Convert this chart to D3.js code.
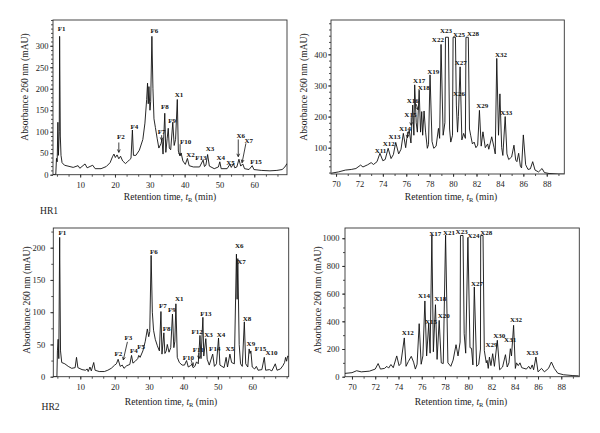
<!DOCTYPE html>
<html><head><meta charset="utf-8">
<script src="https://cdn.jsdelivr.net/npm/d3@7"></script>
<style>body{margin:0;background:#fff}svg{display:block}</style>
</head><body><svg id="c" width="600" height="433"></svg>
<script>
// ---------- DATA (retention time min, absorbance mAU) ----------
const hr1Early = [[2.2,0],[3.0,1],[3.2,38],[3.4,30],[3.6,122],[3.75,45],[4.0,100],[4.1,322],[4.3,90],[4.5,45],[4.8,28],[5.5,22],[6.5,20],[8,17],[9.4,21],[9.9,15],[11.4,25],[12,16],[13.6,22],[14.3,14],[16,14],[17.5,19],[18.6,28],[19.3,42],[19.7,48],[20.1,40],[20.6,46],[21.1,37],[21.6,43],[22.2,32],[23,26],[23.6,30],[24.2,35],[24.6,38],[25.0,104],[25.3,45],[26,45],[27,57],[28,82],[28.6,120],[29.1,175],[29.35,213],[29.55,165],[29.75,205],[30.05,150],[30.25,170],[30.6,322],[30.9,200],[31.2,130],[31.6,110],[32.1,85],[32.6,62],[33.2,72],[33.5,82],[33.8,48],[34.3,143],[34.6,52],[35.0,85],[35.3,108],[35.6,62],[36.0,58],[36.6,122],[37.0,68],[37.4,82],[37.9,175],[38.2,55],[38.6,45],[39.0,50],[39.5,32],[40.2,24],[40.8,38],[41.3,21],[42.5,18],[44.3,18],[45.3,34],[45.7,19],[46.1,22],[46.6,47],[47.1,20],[48.5,14],[49.7,18],[50.1,30],[50.5,14],[52.2,14],[53.0,24],[53.4,17],[54.0,26],[54.4,16],[55.0,18],[55.6,36],[56.1,20],[56.7,25],[57.2,14],[58.5,12],[59.4,21],[59.9,12],[62,10],[64.5,9],[66.5,10],[68,12],[68.8,18],[69.4,26]];
const hr1Late = [[69.6,18],[70.2,22],[70.8,28],[71.3,30],[71.7,33],[72.1,44],[72.3,38],[72.7,45],[73.0,52],[73.2,46],[73.5,55],[73.75,82],[74.0,58],[74.2,62],[74.45,98],[74.7,65],[74.9,78],[75.1,117],[75.35,80],[75.55,95],[75.75,146],[75.95,100],[76.05,130],[76.25,156],[76.4,115],[76.55,237],[76.65,140],[76.72,302],[76.85,180],[76.95,150],[77.1,285],[77.22,150],[77.32,216],[77.4,140],[77.52,218],[77.65,150],[77.8,98],[77.9,110],[78.03,334],[78.2,120],[78.35,98],[78.55,105],[78.75,162],[78.85,130],[78.97,432],[79.15,140],[79.3,180],[79.35,455],[79.6,455],[79.7,160],[79.8,118],[79.95,140],[80.0,455],[80.2,455],[80.28,237],[80.38,150],[80.45,200],[80.6,360],[80.75,125],[80.9,146],[81.05,130],[81.1,455],[81.3,455],[81.4,160],[81.5,140],[81.65,112],[81.8,118],[81.95,100],[82.1,108],[82.25,220],[82.4,105],[82.55,151],[82.75,100],[82.95,112],[83.05,95],[83.3,135],[83.5,100],[83.6,80],[83.73,387],[83.88,140],[84.0,273],[84.15,100],[84.25,75],[84.45,200],[84.6,80],[84.75,62],[85.0,70],[85.2,108],[85.35,60],[85.45,55],[85.6,82],[85.75,40],[85.85,35],[86.0,141],[86.2,45],[86.4,30],[86.6,32],[86.8,55],[87.0,28],[87.3,22],[87.6,33],[87.8,20],[88.2,17],[89.0,15],[89.5,15]];
const hr2Early = [[2.15,0],[3.2,0],[3.35,40],[3.55,58],[3.75,28],[4.0,216],[4.25,40],[4.6,22],[5.5,20],[6.5,16],[7.5,13],[8.5,14],[8.9,30],[9.3,14],[10.5,11],[11.5,10],[12.0,12],[12.3,8],[12.8,15],[13.2,9],[13.9,22],[14.3,10],[15.5,8],[17,8],[18,10],[19,13],[20,18],[20.5,20],[21.0,27],[21.6,16],[22.2,18],[22.7,13],[23.5,17],[24.4,19],[24.9,33],[25.3,21],[26,24],[26.7,28],[27.0,33],[27.4,30],[28.2,40],[28.9,55],[29.5,74],[29.9,62],[30.2,70],[30.6,188],[30.95,100],[31.3,72],[31.8,58],[32.4,48],[33.0,40],[33.45,101],[33.75,35],[34.3,68],[34.6,36],[35.0,40],[35.3,50],[35.8,38],[36.3,45],[36.8,97],[37.2,45],[37.5,55],[37.8,113],[38.2,30],[38.8,22],[39.6,18],[40.3,18],[40.9,25],[41.4,15],[42.0,17],[42.4,19],[42.8,14],[43.3,16],[43.8,23],[44.3,20],[44.8,64],[45.1,28],[45.65,92],[45.9,32],[46.5,59],[46.9,27],[47.5,18],[48.5,35],[49.0,16],[49.6,20],[50.2,60],[50.6,18],[51.8,14],[52.4,30],[52.8,15],[53.5,35],[54.0,22],[54.8,20],[55.4,190],[55.6,120],[55.8,183],[56.2,50],[56.6,20],[57.1,16],[57.7,85],[58.1,20],[58.7,15],[59.1,43],[59.35,36],[59.6,40],[60.0,15],[60.7,12],[61.2,16],[61.7,10],[62.8,11],[63.5,30],[63.9,10],[65,11],[65.7,9],[66.7,20],[67.2,10],[68.2,12],[68.9,17],[69.4,22],[69.7,30],[70.0,24],[70.3,32],[70.6,31]];
const hr2Late = [[69.4,24],[70.0,29],[70.4,43],[70.8,35],[71.5,40],[72.0,55],[72.25,95],[72.45,55],[72.8,60],[73.0,75],[73.15,62],[73.35,88],[73.55,65],[73.85,150],[74.05,80],[74.2,95],[74.5,280],[74.65,75],[74.85,110],[75.1,147],[75.3,105],[75.45,55],[75.6,90],[75.78,383],[75.95,90],[76.1,150],[76.27,547],[76.42,150],[76.6,383],[76.72,170],[76.87,1022],[77.0,180],[77.18,520],[77.32,125],[77.5,407],[77.68,100],[77.85,95],[78.05,1022],[78.25,100],[78.5,75],[78.7,120],[78.95,231],[79.12,150],[79.3,250],[79.33,1020],[79.55,1020],[79.65,310],[79.78,170],[79.97,1005],[80.15,210],[80.28,205],[80.4,85],[80.52,648],[80.72,75],[80.9,90],[81.05,200],[81.07,1020],[81.27,1020],[81.38,190],[81.55,100],[81.62,118],[81.72,60],[81.82,142],[81.95,80],[82.1,166],[82.25,75],[82.5,263],[82.7,50],[82.95,70],[83.2,159],[83.35,70],[83.5,100],[83.62,202],[83.72,150],[83.9,371],[84.05,60],[84.15,100],[84.3,80],[84.45,100],[84.6,65],[85.0,55],[85.2,75],[85.35,55],[85.5,85],[85.62,50],[85.82,142],[86.0,35],[86.3,60],[86.55,35],[86.9,60],[87.15,106],[87.4,60],[87.7,25],[88.2,14],[89.0,8],[89.5,6]];

// peak labels [text, time, absorbance]
const hr1EarlyLabels = [["F1",4.7,339],["F6",31.3,336],["F4",25.6,112],["F2",21.7,89],["F8",34.3,158],["F7",33.4,100],["F9",36.4,125],["X1",38.4,186],["F10",40.3,78],["X2",41.7,48],["F13",44.7,40],["X3",47.3,62],["X4",50.4,40],["X5",53.2,29],["X6",56.1,91],["X7",58.4,79],["F15",60.5,31]];
const hr1LateLabels = [["X11",73.8,92],["X12",74.5,114],["X13",75.0,135],["X14",75.9,162],["X15",76.35,208],["X16",76.55,253],["X17",77.1,315],["X18",77.5,294],["X19",78.3,345],["X22",78.7,448],["X23",79.4,478],["X25",80.5,465],["X28",81.7,468],["X27",80.65,373],["X26",80.5,275],["X29",82.5,234],["X32",84.1,400],["X33",84.55,214]];
const hr2EarlyLabels = [["F1",4.8,224],["F6",31.4,194],["F7",34.0,110],["F8",35.1,75],["F9",36.6,104],["X1",38.8,121],["F13",46.5,98],["F12",44.0,70],["X3",47.3,65],["X4",50.9,66],["F14",49.1,43],["F11",44.3,42],["F10",41.4,30],["F2",21.1,36],["F3",24.0,60],["F4",25.6,41],["F5",27.7,47],["X5",53.5,43],["X6",56.2,203],["X7",56.9,179],["X8",58.5,90],["X9",59.6,52],["F15",62.4,43],["X10",65.6,37]];
const hr2LateLabels = [["X17",77.16,1036],["X21",78.34,1041],["X23",79.43,1048],["X24",80.46,1022],["X28",81.55,1041],["X14",76.2,583],["X18",77.6,566],["X15",76.8,400],["X20",77.9,441],["X12",74.8,318],["X27",80.75,675],["X29",82.0,229],["X30",82.66,294],["X31",83.6,265],["X32",84.1,414],["X33",85.5,173]];

// arrows [t1, v1, t2, v2]
const hr1EarlyArrows = [[21.1,75,21.1,52],[33.4,92,33.4,80],[38.7,71,38.7,44],[55.4,82,55.4,42],[57.6,73,56.5,28]];
const hr1LateArrows = [[76.1,151,76.1,132],[76.42,198,76.42,172],[76.85,240,77.0,222]];
const hr2EarlyArrows = [[23.7,54,22.5,26],[42.2,26,42.8,17],[44.5,37,44.5,28]];
const hr2LateArrows = [];

// tick labels
const earlyXTicks = [10,20,30,40,50,60];
const lateXTicks = [70,72,74,76,78,80,82,84,86,88];
const hr1EarlyYTicks = [0,50,100,150,200,250,300];
const hr1LateYTicks = [100,200,300,400];
const hr2EarlyYTicks = [0,50,100,150,200];
const hr2LateYTicks = [0,200,400,600,800,1000];

// ---------- DRAW ----------
const svg = d3.select("#c");
const FONT = "'Liberation Serif','DejaVu Serif',serif";
const defs = svg.append("defs");

function drawPanel(c) {
  const x = d3.scaleLinear().domain(c.xDom).range([c.l, c.r]);
  const y = d3.scaleLinear().domain(c.yDom).range([c.b, c.t]);
  const g = svg.append("g");
  defs.append("clipPath").attr("id", c.id).append("rect")
    .attr("x", c.l).attr("y", c.t).attr("width", c.r - c.l).attr("height", c.b - c.t);

  const xMinor = d3.range(Math.ceil(c.xDom[0] / c.xMinorStep), Math.floor(c.xDom[1] / c.xMinorStep) + 1)
    .map(k => k * c.xMinorStep);
  const yMinor = d3.range(Math.ceil(c.yDom[0] / c.yMinorStep), Math.floor(c.yDom[1] / c.yMinorStep) + 1)
    .map(k => k * c.yMinorStep);

  const style = sel => {
    sel.select(".domain").remove();
    sel.selectAll("line").attr("stroke", "#222").attr("stroke-width", 0.8);
    sel.selectAll("text").attr("font-family", FONT).attr("font-size", 8.5).attr("fill", "#222");
  };
  g.append("g").attr("transform", `translate(0,${c.b})`)
    .call(d3.axisBottom(x).tickValues(xMinor).tickSize(2).tickFormat("")).call(style);
  g.append("g").attr("transform", `translate(0,${c.b})`)
    .call(d3.axisBottom(x).tickValues(c.xTicks).tickSize(3).tickPadding(4).tickFormat(d3.format("d"))).call(style);
  g.append("g").attr("transform", `translate(${c.l},0)`)
    .call(d3.axisLeft(y).tickValues(yMinor).tickSize(2).tickFormat("")).call(style);
  g.append("g").attr("transform", `translate(${c.l},0)`)
    .call(d3.axisLeft(y).tickValues(c.yTicks).tickSize(3).tickPadding(c.yPad).tickFormat(d3.format("d"))).call(style);

  g.append("rect").attr("x", c.l).attr("y", c.t).attr("width", c.r - c.l).attr("height", c.b - c.t)
    .attr("fill", "none").attr("stroke", "#333").attr("stroke-width", 0.9);

  const line = d3.line().x(d => x(d[0])).y(d => y(d[1]));
  g.append("path").datum(c.data).attr("clip-path", `url(#${c.id})`)
    .attr("d", line).attr("fill", "none").attr("stroke", "#111").attr("stroke-width", 0.9)
    .attr("stroke-linejoin", "miter");

  g.selectAll(".pk").data(c.labels).enter().append("text")
    .attr("x", d => x(d[1])).attr("y", d => y(d[2])).attr("dy", "0.35em")
    .attr("text-anchor", "middle").attr("font-family", FONT).attr("font-size", 7)
    .attr("font-weight", "bold").attr("fill", "#111").text(d => d[0]);

  c.arrows.forEach(a => {
    const x1 = x(a[0]), y1 = y(a[1]), x2 = x(a[2]), y2 = y(a[3]);
    const ang = Math.atan2(y2 - y1, x2 - x1), L = 3.2, w = 0.45;
    g.append("path")
      .attr("d", `M${x1},${y1}L${x2},${y2}M${x2 - L * Math.cos(ang - w)},${y2 - L * Math.sin(ang - w)}L${x2},${y2}L${x2 - L * Math.cos(ang + w)},${y2 - L * Math.sin(ang + w)}`)
      .attr("fill", "none").attr("stroke", "#111").attr("stroke-width", 0.8);
  });

  const xt = g.append("text").attr("x", c.xTitle[0]).attr("y", c.xTitle[1]).attr("text-anchor", "middle")
    .attr("font-family", FONT).attr("font-size", 9.6).attr("fill", "#222");
  xt.append("tspan").text("Retention time, ");
  xt.append("tspan").attr("font-style", "italic").text("t");
  xt.append("tspan").attr("font-size", 6.5).attr("dy", 2).text("R");
  xt.append("tspan").attr("dy", -2).text(" (min)");

  g.append("text").attr("transform", `translate(${c.yTitle[0]},${c.yTitle[1]}) rotate(-90)`)
    .attr("dy", "0.35em").attr("text-anchor", "middle").attr("font-family", FONT)
    .attr("font-size", 9.6).attr("fill", "#222").text("Absorbance 260 nm (mAU)");
}

drawPanel({id: "p1", l: 53, r: 287, t: 20, b: 174.7, xDom: [2.2, 69.4], yDom: [0, 360],
  xTicks: earlyXTicks, xMinorStep: 10 / 3, yTicks: hr1EarlyYTicks, yMinorStep: 10, yPad: 1.5,
  data: hr1Early, labels: hr1EarlyLabels, arrows: hr1EarlyArrows, xTitle: [170, 199.5], yTitle: [25, 87]});
drawPanel({id: "p2", l: 331, r: 564.3, t: 20, b: 174, xDom: [69.57, 89.5], yDom: [15.4, 510.5],
  xTicks: lateXTicks, xMinorStep: 1, yTicks: hr1LateYTicks, yMinorStep: 20, yPad: 1,
  data: hr1Late, labels: hr1LateLabels, arrows: hr1LateArrows, xTitle: [451, 199.5], yTitle: [304, 87]});
drawPanel({id: "p3", l: 53.3, r: 288.7, t: 228, b: 376.7, xDom: [2.15, 70.6], yDom: [0, 230.5],
  xTicks: earlyXTicks, xMinorStep: 10 / 3, yTicks: hr2EarlyYTicks, yMinorStep: 25, yPad: 5,
  data: hr2Early, labels: hr2EarlyLabels, arrows: hr2EarlyArrows, xTitle: [171, 405], yTitle: [27, 300]});
drawPanel({id: "p4", l: 345, r: 579.3, t: 228, b: 376.7, xDom: [69.4, 89.55], yDom: [0, 1074],
  xTicks: lateXTicks, xMinorStep: 1, yTicks: hr2LateYTicks, yMinorStep: 100, yPad: 2.5,
  data: hr2Late, labels: hr2LateLabels, arrows: hr2LateArrows, xTitle: [461, 405], yTitle: [318, 300]});

svg.append("text").attr("x", 40).attr("y", 214).attr("font-family", FONT).attr("font-size", 9.6).attr("fill", "#222").text("HR1");
svg.append("text").attr("x", 41.5).attr("y", 410).attr("font-family", FONT).attr("font-size", 9.6).attr("fill", "#222").text("HR2");
</script></body></html>
